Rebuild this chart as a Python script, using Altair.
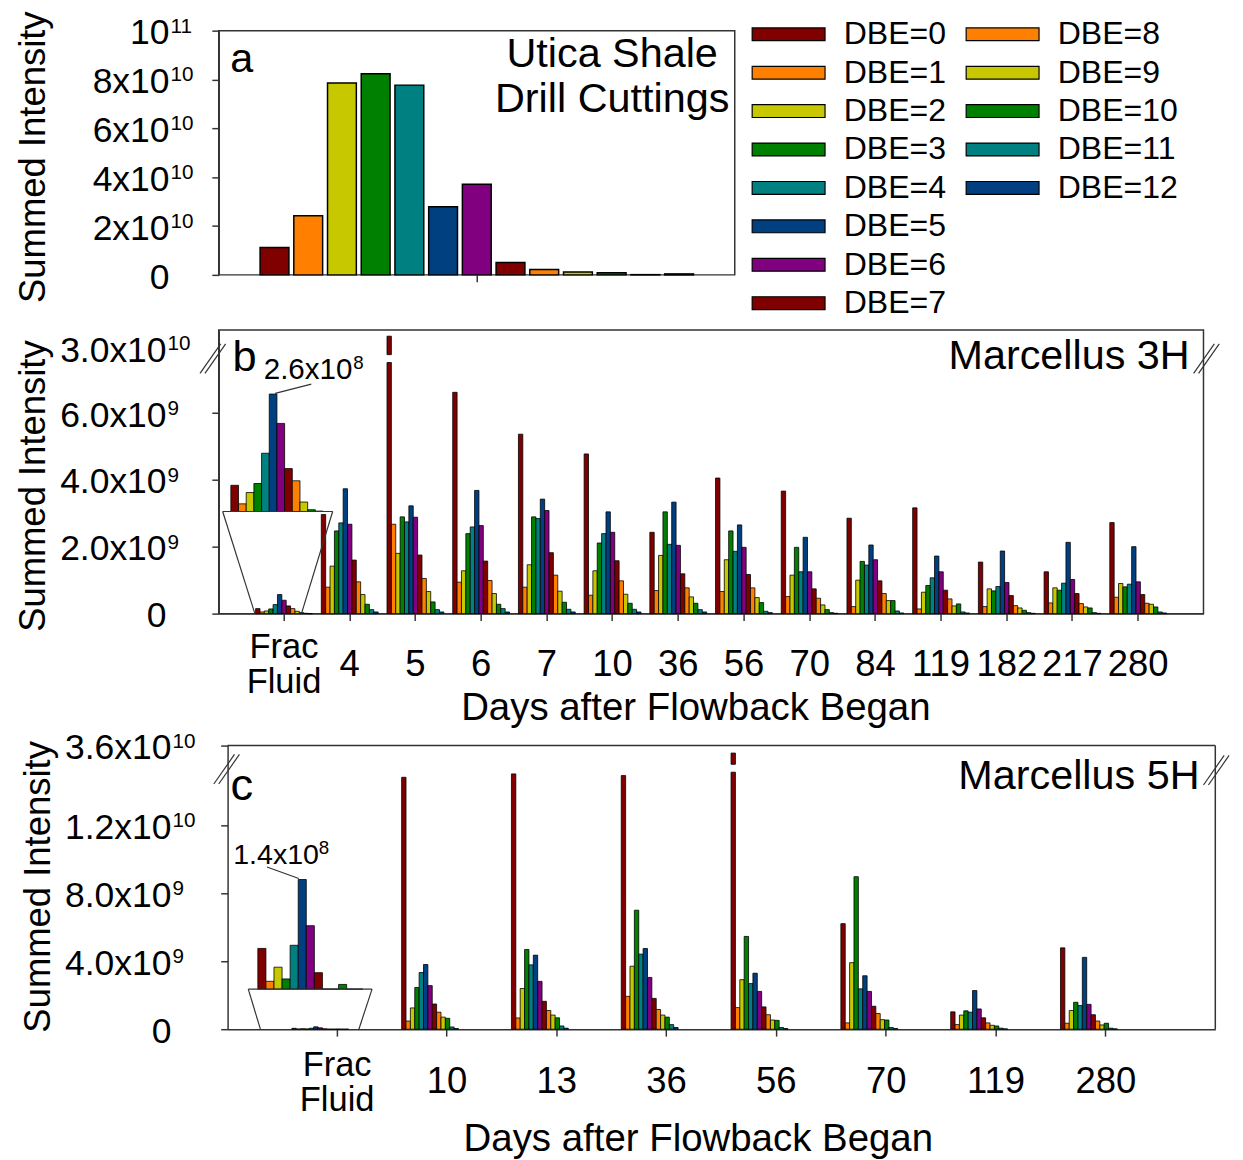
import altair as alt
import pandas as pd

FONT = "Liberation Sans, Arial, DejaVu Sans, sans-serif"

# ---------------- data ----------------
DBE = ["DBE=0", "DBE=1", "DBE=2", "DBE=3", "DBE=4", "DBE=5", "DBE=6",
       "DBE=7", "DBE=8", "DBE=9", "DBE=10", "DBE=11", "DBE=12"]
COLORS = ["#800000", "#FF8000", "#C8C800", "#008000", "#008080", "#004080", "#800080",
          "#800000", "#FF8000", "#C8C800", "#008000", "#008080", "#004080"]

# (a) Utica Shale drill cuttings, summed intensity in units of 1e10
UTICA = [1.12, 2.42, 7.86, 8.24, 7.77, 2.79, 3.71, 0.51, 0.22, 0.12, 0.09, 0.01, 0.04]

# (b) Marcellus 3H, units of 1e9
DAYS_3H = ["Frac Fluid", "4", "5", "6", "7", "10", "36", "56", "70", "84", "119", "182", "217", "280"]
M3H = {
    "Frac Fluid": [0.15, 0.05, 0.08, 0.14, 0.27, 0.57, 0.40, 0.23, 0.15, 0.07, 0.03, 0.01, 0.00],
    "4":   [2.96, 0.79, 1.42, 2.47, 2.71, 3.73, 2.67, 1.60, 0.95, 0.57, 0.28, 0.12, 0.05],
    "5":   [32.0, 2.67, 1.80, 2.89, 2.74, 3.22, 2.88, 1.75, 1.05, 0.66, 0.35, 0.12, 0.05],
    "6":   [6.61, 0.94, 1.28, 2.39, 2.59, 3.68, 2.63, 1.57, 0.99, 0.60, 0.28, 0.15, 0.05],
    "7":   [5.36, 0.79, 1.46, 2.89, 2.84, 3.42, 3.08, 1.82, 1.15, 0.67, 0.34, 0.13, 0.05],
    "10":  [4.77, 0.55, 1.28, 2.11, 2.39, 3.04, 2.43, 1.58, 0.98, 0.58, 0.31, 0.13, 0.05],
    "36":  [2.43, 0.69, 1.74, 3.04, 2.07, 3.33, 2.04, 1.19, 0.77, 0.50, 0.31, 0.12, 0.05],
    "56":  [4.05, 0.66, 1.61, 2.47, 1.86, 2.65, 1.98, 1.17, 0.77, 0.48, 0.33, 0.07, 0.03],
    "70":  [3.66, 0.51, 1.15, 1.98, 1.25, 2.28, 1.25, 0.74, 0.46, 0.26, 0.12, 0.03, 0.01],
    "84":  [2.85, 0.21, 1.00, 1.56, 1.45, 2.05, 1.61, 0.98, 0.60, 0.39, 0.39, 0.08, 0.02],
    "119": [3.16, 0.14, 0.64, 0.84, 1.07, 1.72, 1.25, 0.70, 0.44, 0.23, 0.29, 0.05, 0.02],
    "182": [1.54, 0.21, 0.74, 0.68, 0.81, 1.87, 0.93, 0.54, 0.24, 0.17, 0.10, 0.03, 0.01],
    "217": [1.25, 0.32, 0.77, 0.70, 0.91, 2.13, 1.02, 0.60, 0.30, 0.20, 0.17, 0.03, 0.01],
    "280": [2.72, 0.49, 0.90, 0.80, 0.88, 2.00, 0.95, 0.57, 0.31, 0.28, 0.20, 0.05, 0.02],
}
# (b) frac fluid inset, units of 1e8
M3H_INSET = [0.58, 0.17, 0.42, 0.62, 1.29, 2.60, 1.95, 0.95, 0.68, 0.21, 0.04, 0.01, 0.00]

# (c) Marcellus 5H, units of 1e9
DAYS_5H = ["Frac Fluid", "10", "13", "36", "56", "70", "119", "280"]
M5H = {
    "Frac Fluid": [0.052, 0.010, 0.028, 0.013, 0.056, 0.140, 0.081, 0.021, 0.0, 0.0, 0.006, 0.0, 0.0],
    "10":  [14.8, 0.48, 1.25, 2.45, 3.33, 3.80, 2.56, 1.48, 1.00, 0.71, 0.64, 0.13, 0.04],
    "13":  [15.0, 0.66, 2.39, 4.68, 3.78, 4.35, 2.81, 1.64, 1.10, 0.83, 0.67, 0.19, 0.06],
    "36":  [14.9, 1.93, 3.70, 6.99, 4.41, 4.74, 3.04, 1.81, 1.16, 0.83, 0.71, 0.27, 0.10],
    "56":  [35.2, 1.27, 2.91, 5.45, 2.68, 3.29, 2.22, 1.31, 0.85, 0.54, 0.52, 0.10, 0.04],
    "70":  [6.20, 0.37, 3.91, 8.96, 2.37, 3.14, 2.22, 1.35, 0.92, 0.56, 0.54, 0.10, 0.04],
    "119": [1.02, 0.27, 0.83, 1.08, 1.00, 2.27, 1.19, 0.67, 0.37, 0.23, 0.19, 0.06, 0.02],
    "280": [4.78, 0.35, 1.10, 1.58, 1.39, 4.22, 1.46, 0.85, 0.48, 0.25, 0.35, 0.06, 0.02],
}
# (c) frac fluid inset, units of 1e8
M5H_INSET = [0.52, 0.10, 0.28, 0.13, 0.56, 1.40, 0.81, 0.21, 0.0, 0.0, 0.06, 0.0, 0.0]

# y tick labels: mantissa part and superscript exponent
A_TICKS = [0, 2e10, 4e10, 6e10, 8e10, 1e11]
A_BASE = ["0", "2x10", "4x10", "6x10", "8x10", "10"]
A_EXP = ["", "10", "10", "10", "10", "11"]
B_TICKS = [0, 2e9, 4e9, 6e9, 3e10]
B_BASE = ["0", "2.0x10", "4.0x10", "6.0x10", "3.0x10"]
B_EXP = ["", "9", "9", "9", "10"]
C_TICKS = [0, 4e9, 8e9, 1.2e10, 3.6e10]
C_BASE = ["0", "4.0x10", "8.0x10", "1.2x10", "3.6x10"]
C_EXP = ["", "9", "9", "10", "10"]

# ---------------- frames ----------------
df_a = pd.DataFrame({"dbe": DBE, "v": [x * 1e10 for x in UTICA]})

def grouped(days, table):
    rows = []
    for day in days:
        for d, v in zip(DBE, table[day]):
            rows.append({"day": day, "dbe": d, "v": v * 1e9})
    return pd.DataFrame(rows)

df_b = grouped(DAYS_3H, M3H)
df_c = grouped(DAYS_5H, M5H)
df_b_ins = pd.DataFrame({"dbe": DBE, "v": [x * 1e8 for x in M3H_INSET]})
df_c_ins = pd.DataFrame({"dbe": DBE, "v": [x * 1e8 for x in M5H_INSET]})
DUMMY = pd.DataFrame({"k": [0]})

COLOR = alt.Color("dbe:N", scale=alt.Scale(domain=DBE, range=COLORS), legend=None)
FRAME = "#333"


def rules(lines, color=FRAME, width=1.2):
    return [alt.Chart(DUMMY).mark_rule(color=color, strokeWidth=width).encode(
        x=alt.value(x1), y=alt.value(y1), x2=alt.value(x2), y2=alt.value(y2))
        for (x1, y1, x2, y2) in lines]


def texts(items):
    out = []
    for (t, x, y, size, align) in items:
        out.append(alt.Chart(DUMMY).mark_text(
            font=FONT, fontSize=size, align=align, baseline="alphabetic", color="black"
        ).encode(x=alt.value(x), y=alt.value(y), text=alt.value(t)))
    return out


def brk(cx, cy):
    return [(cx - 13, cy + 15, cx + 8, cy - 15), (cx - 8, cy + 15, cx + 13, cy - 15)]


def yaxis(tx, ty, ticks, hide_above=None, offset=0):
    kw = dict(values=ticks, labels=False, tickSize=7, grid=False,
              title="Summed Intensity", titleFontSize=37, titleFontWeight="normal",
              titleX=tx, titleY=ty, titleAngle=-90, titleBaseline="middle",
              titleAlign="center", offset=offset)
    if hide_above is not None:
        kw["tickOpacity"] = {"condition": {"test": f"datum.value > {hide_above}", "value": 0},
                             "value": 1}
    return alt.Axis(**kw)


def tick_labels(ticks, bases, exps, xpos, yscale, yax):
    df = pd.DataFrame({"t": ticks, "base": bases, "exp": exps})
    base = alt.Chart(df).mark_text(font=FONT, fontSize=36, align="right", baseline="middle",
                                   dy=3, color="black").encode(
        x=alt.value(xpos), y=alt.Y("t:Q", scale=yscale, axis=yax), text="base:N")
    expo = alt.Chart(df).mark_text(font=FONT, fontSize=21, align="left", baseline="alphabetic",
                                   dy=2, color="black").encode(
        x=alt.value(xpos + 1), y=alt.Y("t:Q", scale=yscale, axis=yax), text="exp:N")
    return [base, expo]


# ---------------- panel a ----------------
a_yscale = alt.Scale(domain=[0, 1e11], nice=False, zero=False)
a_yax = yaxis(-188, 128, A_TICKS)
a_bars = alt.Chart(df_a).mark_bar(stroke="black", strokeWidth=1.5).encode(
    x=alt.X("dbe:N", scale=alt.Scale(domain=DBE, range=[42, 482.1], paddingInner=0.145,
                                       paddingOuter=0),
            axis=alt.Axis(values=["DBE=6"], labels=False, title=None, tickSize=7,
                          domain=False)),
    y=alt.Y("v:Q", scale=a_yscale, axis=a_yax, stack=False),
    color=COLOR,
)
panel_a = alt.layer(
    a_bars,
    *tick_labels(A_TICKS, A_BASE, A_EXP, -50, a_yscale, a_yax),
    *texts([("a", 11.7, 41.7, 42, "left"),
            ("Utica Shale", 399.5, 36.7, 42, "center"),
            ("Drill Cuttings", 399.5, 82.7, 42, "center")]),
).properties(width=524, height=248)

# ---------------- legend ----------------
leg_base = alt.Chart(pd.DataFrame({"dbe": DBE})).transform_calculate(
    idx="toNumber(substring(datum.dbe, 4))"
).transform_calculate(col="datum.idx >= 8 ? 1 : 0", row="datum.idx % 8")
LX = alt.X("col:O", scale=alt.Scale(domain=[0, 1], range=[16.7, 308.0], paddingInner=0.6595,
                                     paddingOuter=0), axis=None)
LY = alt.Y("row:O", scale=alt.Scale(domain=list(range(8)), range=[-2.8, 283.2],
                                     paddingInner=0.6667, paddingOuter=0), axis=None)
leg_rect = leg_base.mark_rect(stroke="black", strokeWidth=1.2).encode(x=LX, y=LY, color=COLOR)
leg_text = leg_base.mark_text(font=FONT, fontSize=32.5, align="left", baseline="middle",
                              dx=56, color="black").encode(x=LX, y=LY, text="dbe:N")
legend = alt.layer(leg_rect, leg_text).properties(
    width=460, height=290, view=alt.ViewBackground(strokeOpacity=0))


# ---------------- panels b / c ----------------
def grouped_panel(df, df_ins, days, width, height, xr, pin, pout, ydom, yrng, brk_lo, brk_hi,
                  yax, ticks, bases, exps, labx, xlabpad, xtx, xty, ins_xr, ins_yd, ins_yr,
                  lines, txts, frame_lines):
    xscale = alt.Scale(domain=days, range=xr, paddingInner=pin, paddingOuter=pout)
    xoff = alt.XOffset("dbe:N", scale=alt.Scale(domain=DBE, paddingInner=0, paddingOuter=0))
    yscale = alt.Scale(domain=ydom, range=yrng, nice=False, zero=False)
    is_frac = "datum.value == 'Frac Fluid'"
    xaxis = alt.Axis(title="Days after Flowback Began", titleFontSize=39,
                     titleFontWeight="normal", titleX=xtx, titleY=xty,
                     titleBaseline="middle", titleAlign="center", labelAngle=0,
                     labelFontSize={"condition": {"test": is_frac, "value": 35}, "value": 37},
                     labelBaseline="middle",
                     labelPadding={"condition": {"test": is_frac, "value": xlabpad - 17.75},
                                   "value": xlabpad},
                     labelLineHeight=35.5, labelOverlap=False, labelFlush=False,
                     labelExpr="datum.value == 'Frac Fluid' ? ['Frac', 'Fluid'] : datum.label",
                     tickSize=7, grid=False)
    main = alt.Chart(df).transform_calculate(lo=f"min(datum.v, {brk_lo})").mark_bar(
        stroke="black", strokeWidth=0.8).encode(
        x=alt.X("day:N", scale=xscale, axis=xaxis),
        xOffset=xoff,
        y=alt.Y("lo:Q", scale=yscale, axis=yax, stack=False),
        color=COLOR)
    upper = alt.Chart(df).transform_filter(f"datum.v > {brk_hi}").transform_calculate(
        hi=f"{brk_hi}").mark_bar(stroke="black", strokeWidth=0.8).encode(
        x=alt.X("day:N", scale=xscale, axis=xaxis),
        xOffset=xoff,
        y=alt.Y("v:Q", scale=yscale, axis=yax, stack=False),
        y2=alt.Y2("hi:Q"),
        color=COLOR)
    inner = alt.layer(main, upper, *tick_labels(ticks, bases, exps, labx, yscale, yax))
    inset = alt.Chart(df_ins).mark_bar(stroke="black", strokeWidth=0.8).encode(
        x=alt.X("dbe:N", scale=alt.Scale(domain=DBE, range=ins_xr, paddingInner=0,
                                           paddingOuter=0), axis=None),
        y=alt.Y("v:Q", scale=alt.Scale(domain=ins_yd, range=ins_yr, nice=False, zero=False),
                axis=None, stack=False),
        color=COLOR)
    layers = [inner, inset] + rules(lines) + rules(frame_lines, width=1.5) + texts(txts)
    out = alt.layer(*layers).resolve_scale(x="independent", y="independent").properties(
        width=width, height=height)
    if frame_lines:
        out = out.properties(view=alt.ViewBackground(strokeOpacity=0))
    return out


panel_b = grouped_panel(
    df_b, df_b_ins, DAYS_3H, 1000, 288, [0, 1000], 0.135, 0.561,
    [0, 7.5e9, 2.9e10, 3.3e10], [288, 33, 25, 0], 7.5e9, 2.9e10,
    yaxis(-188, 158, B_TICKS, hide_above=2e10), B_TICKS, B_BASE, B_EXP, -53,
    44.7, 484, 95.7,
    [12.3, 113.7], [0, 2.6e8], [184.3, 65],
    [(4, 184.3, 115.7, 184.3), (4, 184.3, 36.7, 288), (115.7, 184.3, 84, 288),
     (57.3, 64.3, 94, 55)] + brk(-6, 29) + brk(1003, 29),
    [("b", 14, 42, 44, "left"), ("2.6x10", 45.7, 50, 30, "left"), ("8", 136.5, 40, 19, "left"),
     ("Marcellus 3H", 986, 39.3, 42, "right")],
    [],
)

# panel c plot area starts 9 px right of panel b's; the view is widened and the
# frame is drawn at the shifted position.
S = 9
panel_c = grouped_panel(
    df_c, df_c_ins, DAYS_5H, 1003 + S, 288, [S, 1003 + S], 0.175, 0.585,
    [0, 1.51e10, 3.4e10, 3.6e10], [288, 27, 19, 0], 1.51e10, 3.4e10,
    yaxis(-192, 143, C_TICKS, offset=-S), C_TICKS, C_BASE, C_EXP, -57 + S,
    46.7, 486.5, 110.7,
    [30.7 + S, 137.3 + S], [0, 1.4e8], [247.3, 136],
    [(21 + S, 247.3, 146.7 + S, 247.3), (21 + S, 247.3, 33.3 + S, 288),
     (146.7 + S, 247.3, 133.3 + S, 288), (40 + S, 123.3, 72.3 + S, 135)]
    + brk(-1 + S, 24) + brk(1004 + S, 25),
    [("c", 3 + S, 55, 46, "left"), ("1.4x10", 5.7 + S, 120, 29, "left"),
     ("8", 92.5 + S, 110, 19, "left"),
     ("Marcellus 5H", 987 + S, 44.3, 42, "right")],
    [(S, 0, 1003 + S, 0), (1003 + S, 0, 1003 + S, 288)],
)

row1 = alt.hconcat(panel_a, legend, spacing=0)
chart = alt.vconcat(alt.vconcat(row1, panel_b, spacing=9), panel_c, spacing=2).properties(
    padding={"left": 6, "top": -7, "right": 5, "bottom": 5}
).configure_view(
    stroke=FRAME, strokeWidth=1.5
).configure_axis(
    labelFont=FONT, titleFont=FONT, labelColor="black", titleColor="black",
    domainColor=FRAME, tickColor=FRAME, domainWidth=1.5, tickWidth=1.5, grid=False
)

chart.save("out.html", embed_options={"renderer": "svg", "actions": False})
